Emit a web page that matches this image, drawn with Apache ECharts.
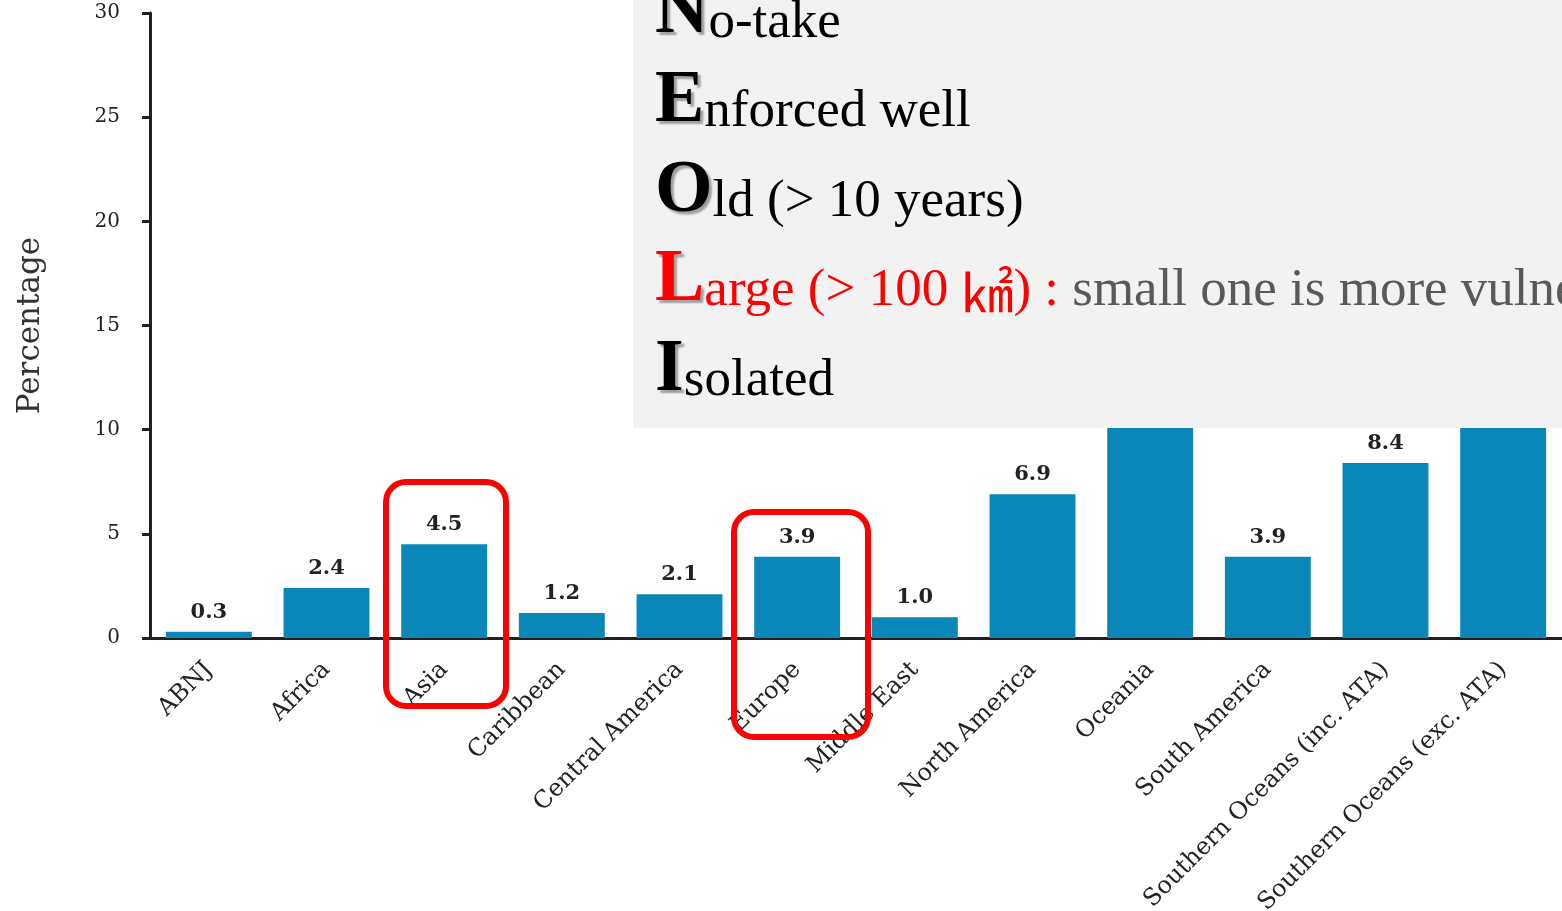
<!DOCTYPE html>
<html>
<head>
<meta charset="utf-8">
<script src="https://cdn.jsdelivr.net/npm/echarts@6/dist/echarts.min.js"></script>
<style>
html, body { margin: 0; padding: 0; background: #fff; }
#main { width: 1562px; height: 911px; }
</style>
</head>
<body>
<div id="main"></div>
<script>
// regions on the x axis
var regions = ['ABNJ', 'Africa', 'Asia', 'Caribbean', 'Central America', 'Europe',
	'Middle East', 'North America', 'Oceania', 'South America',
	'Southern Oceans (inc. ATA)', 'Southern Oceans (exc. ATA)'];
// percentage per region (Oceania and exc. ATA are hidden under the box, estimated)
var percents = [0.3, 2.4, 4.5, 1.2, 2.1, 3.9, 1.0, 6.9, 12.4, 3.9, 8.4, 16.3];
var yTicks = [0, 5, 10, 15, 20, 25, 30];

var serif = 'DejaVu Serif';
var times = 'Liberation Serif';

// rich styles for the NEOLI box (zrender text uses fill, not color)
var big = { fontFamily: times, fontWeight: 'bold', fontSize: 74, lineHeight: 74, fill: '#000',
	verticalAlign: 'bottom', textShadowColor: 'rgba(0,0,0,0.35)', textShadowOffsetX: 3,
	textShadowOffsetY: 3, textShadowBlur: 2 };
var small = { fontFamily: times, fontSize: 53, lineHeight: 60, fill: '#000', verticalAlign: 'bottom' };
function extend(a, b) {
	var o = {};
	for (var k in a) o[k] = a[k];
	for (var j in b) o[j] = b[j];
	return o;
}
var rich = {
	b: big,
	s: small,
	rb: extend(big, { fill: '#ff0000' }),
	rs: extend(small, { fill: '#ff0000' }),
	km: extend(small, { fill: '#ff0000', fontFamily: 'Noto Sans CJK SC', fontSize: 52, lineHeight: 62 }),
	gs: extend(small, { fill: '#595959' })
};
function line(text, baseline) {
	return {
		type: 'text',
		x: 655,
		y: baseline + 12,
		z: 110,
		style: { text: text, rich: rich, verticalAlign: 'bottom', align: 'left' }
	};
}

var myChart = echarts.init(document.getElementById('main'));
myChart.setOption({
	animation: false,
	grid: {
		left: 150,
		right: 0,
		top: 13,
		bottom: 273,
		containLabel: false,
		outerBoundsMode: 'none'
	},
	xAxis: {
		type: 'category',
		data: regions,
		axisLine: { lineStyle: { color: '#231f20', width: 3 } },
		axisTick: { length: 10, lineStyle: { color: '#231f20', width: 3 } },
		axisLabel: {
			interval: 0,
			rotate: 45,
			margin: 28,
			fontFamily: serif,
			fontSize: 24,
			color: '#222'
		}
	},
	yAxis: {
		type: 'value',
		min: yTicks[0],
		max: yTicks[yTicks.length - 1],
		interval: 5,
		name: 'Percentage',
		nameLocation: 'middle',
		nameGap: 104,
		nameTextStyle: { fontFamily: serif, fontSize: 31, color: '#333' },
		axisLine: { show: true, lineStyle: { color: '#231f20', width: 3 } },
		axisTick: { show: true, length: 8, lineStyle: { color: '#231f20', width: 3 } },
		splitLine: { show: false },
		axisLabel: { margin: 30, fontFamily: serif, fontSize: 20, color: '#222', padding: [8, 0, 0, 0] }
	},
	series: [{
		type: 'bar',
		data: percents,
		barCategoryGap: '27%',
		itemStyle: { color: '#0987b8' },
		label: {
			show: true,
			position: 'top',
			distance: 9,
			fontFamily: serif,
			fontWeight: 'bold',
			fontSize: 21,
			color: '#222',
			formatter: function(p) {
				return p.value.toFixed(1);
			}
		}
	}],
	graphic: [
		{
			type: 'rect',
			z: 100,
			shape: { x: 633, y: 0, width: 929, height: 428 },
			style: { fill: '#f2f2f2' }
		},
		line('{b|N}{s|o-take}', 38),
		line('{b|E}{s|nforced well}', 127),
		line('{b|O}{s|ld (> 10 years)}', 217),
		line('{rb|L}{rs|arge (> 100 }{km|㎢}{rs|) : }{gs|small one is more vulnerable}', 306),
		line('{b|I}{s|solated}', 396),
		// red highlight boxes
		{
			type: 'rect',
			z: 120,
			shape: { x: 386, y: 482, width: 120, height: 224, r: 20 },
			style: { fill: 'none', stroke: '#ff0000', lineWidth: 6 }
		},
		{
			type: 'rect',
			z: 120,
			shape: { x: 734, y: 512, width: 134, height: 225, r: 20 },
			style: { fill: 'none', stroke: '#ff0000', lineWidth: 6 }
		}
	]
});
</script>
</body>
</html>
